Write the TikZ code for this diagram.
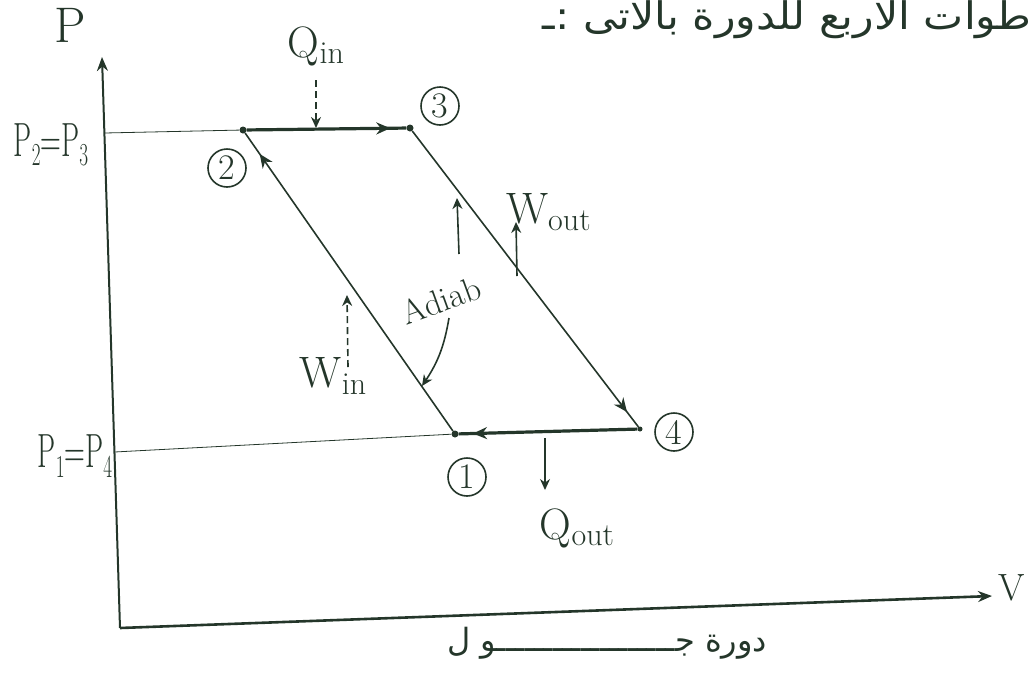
\documentclass[tikz,border=0pt]{standalone}
\usepackage{fontspec}
\usetikzlibrary{arrows.meta,decorations.markings,calc}
\TeXXeTstate=1
\newfontfamily\arabicfont[Script=Arabic]{DejaVu Sans}
\definecolor{inkc}{RGB}{36,54,42}
\newcommand\lsub[1]{\raisebox{-0.35ex}{\fontsize{32}{34}\selectfont #1}}
\newcommand\psub[1]{\raisebox{-0.45ex}{\fontsize{32}{34}\selectfont #1}}
\begin{document}
\begin{tikzpicture}[x=1pt,y=-1pt,
  ink/.style={draw=inkc, line width=1.6pt},
  thin ink/.style={draw=inkc, line width=0.8pt},
  heavy/.style={draw=inkc, line width=3.2pt},
  tip/.style={-{Stealth[length=14pt,width=11pt]}},
  smalltip/.style={-{Stealth[length=11pt,width=10pt]}},
  midtip/.style={postaction={decorate},decoration={markings,
     mark=at position #1 with {\arrow[inkc]{Stealth[length=14pt,width=12pt]}}}},
  lbl/.style={text=inkc, font=\fontsize{44}{48}\selectfont, inner sep=1pt},
  plbl/.style={text=inkc, font=\fontsize{48}{52}\selectfont, inner sep=1pt, xscale=0.6},
  circ/.style={draw=inkc, line width=1.6pt, circle, minimum size=38pt, inner sep=0pt,
     text=inkc, font=\fontsize{36}{38}\selectfont},
  dot/.style={circle, fill=inkc, inner sep=0pt, minimum size=7pt},
  dashy/.style={dash pattern=on 7pt off 4pt},
  arab/.style={text=inkc, inner sep=0pt}
]
\useasboundingbox (0,0) rectangle (1030,675);

% axes
\coordinate (O) at (120,628);
\coordinate (Ptop) at (102,57);
\coordinate (Vend) at (992,596);
\draw[ink, line width=2pt, tip] (O) -- (Ptop);
\draw[ink, line width=2.6pt, tip] (O) -- (Vend);
\node[lbl, font=\fontsize{50}{54}\selectfont] (Plab) at (70,25) {P};
\node[lbl, font=\fontsize{38}{42}\selectfont] (Vlab) at (1012,588) {V};

% state points
\node[dot] (p1) at (455,434) {};
\node[dot] (p2) at (243,130) {};
\node[dot] (p3) at (410,128) {};
\node[dot, minimum size=5pt] (p4) at (640,429) {};

% pressure levels
\coordinate (a23) at ($(O)!{(628-133)/571}!(Ptop)$);
\coordinate (a14) at ($(O)!{(628-452)/571}!(Ptop)$);
\draw[thin ink] (a23) -- (p2);
\draw[thin ink] (a14) -- (p1);
\node[plbl] (P23) at (51,145) {P\psub{2}=P\psub{3}};
\node[plbl] (P14) at (75,456) {P\psub{1}=P\psub{4}};

% cycle
\draw[ink, midtip=0.93] (p1) -- (p2);
\draw[heavy, midtip=0.9] (p2) -- (p3);
\draw[ink, midtip=0.95] (p3) -- (p4);
\draw[heavy, midtip=0.92] (p4) -- (p1);

% point labels
\node[circ] (c1) at (467,477) {1};
\node[circ] (c2) at (227,168) {2};
\node[circ] (c3) at (440,106) {3};
\node[circ] (c4) at (674,432) {4};

% heat in
\node[lbl] (Qin) at (316,46) {Q\lsub{in}};
\coordinate (qa) at (316,80);
\coordinate (qb) at (316,128);
\draw[ink, line width=1.5pt, dashy, smalltip] (qa) -- (qb);

% heat out
\coordinate (qc) at (545,438);
\coordinate (qd) at (545,490);
\draw[ink, line width=1.3pt, smalltip] (qc) -- (qd);
\node[lbl] (Qout) at (577,528) {Q\lsub{out}};

% work out
\coordinate (wa) at (517,276);
\coordinate (wb) at (516,222);
\draw[ink, line width=1.6pt, smalltip] (wa) -- (wb);
\node[lbl, anchor=west] (Wout) at (505,212) {W\lsub{out}};

% work in
\coordinate (wc) at (348,367);
\coordinate (wd) at (347,295);
\draw[ink, line width=1.6pt, dashy, smalltip] (wc) -- (wd);
\node[lbl] (Win) at (333,376) {W\lsub{in}};

% adiabatic label
\node[lbl, rotate=20, font=\fontsize{34}{36}\selectfont] (Adiab) at (441,300) {Adiab};
\coordinate (ea) at (459,254);
\coordinate (eb) at (457,198);
\draw[ink, line width=1.6pt, smalltip] (ea) -- (eb);
\coordinate (ec) at (449,318);
\coordinate (ed) at (422,386);
\draw[ink, line width=1.6pt, smalltip] (ec) to[bend left=12] (ed);

% arabic texts
\node[arab, anchor=east, xscale=1.12] (top) at (1032,20) {\arabicfont\fontsize{38}{42}\selectfont\beginR طوات الاربع للدورة بالاتى :ـ\endR};
\node[arab] (bottom) at (607,643) {\arabicfont\fontsize{32}{36}\selectfont\beginR دورة جـــــــــــــــــــو ل\endR};
\end{tikzpicture}
\end{document}
